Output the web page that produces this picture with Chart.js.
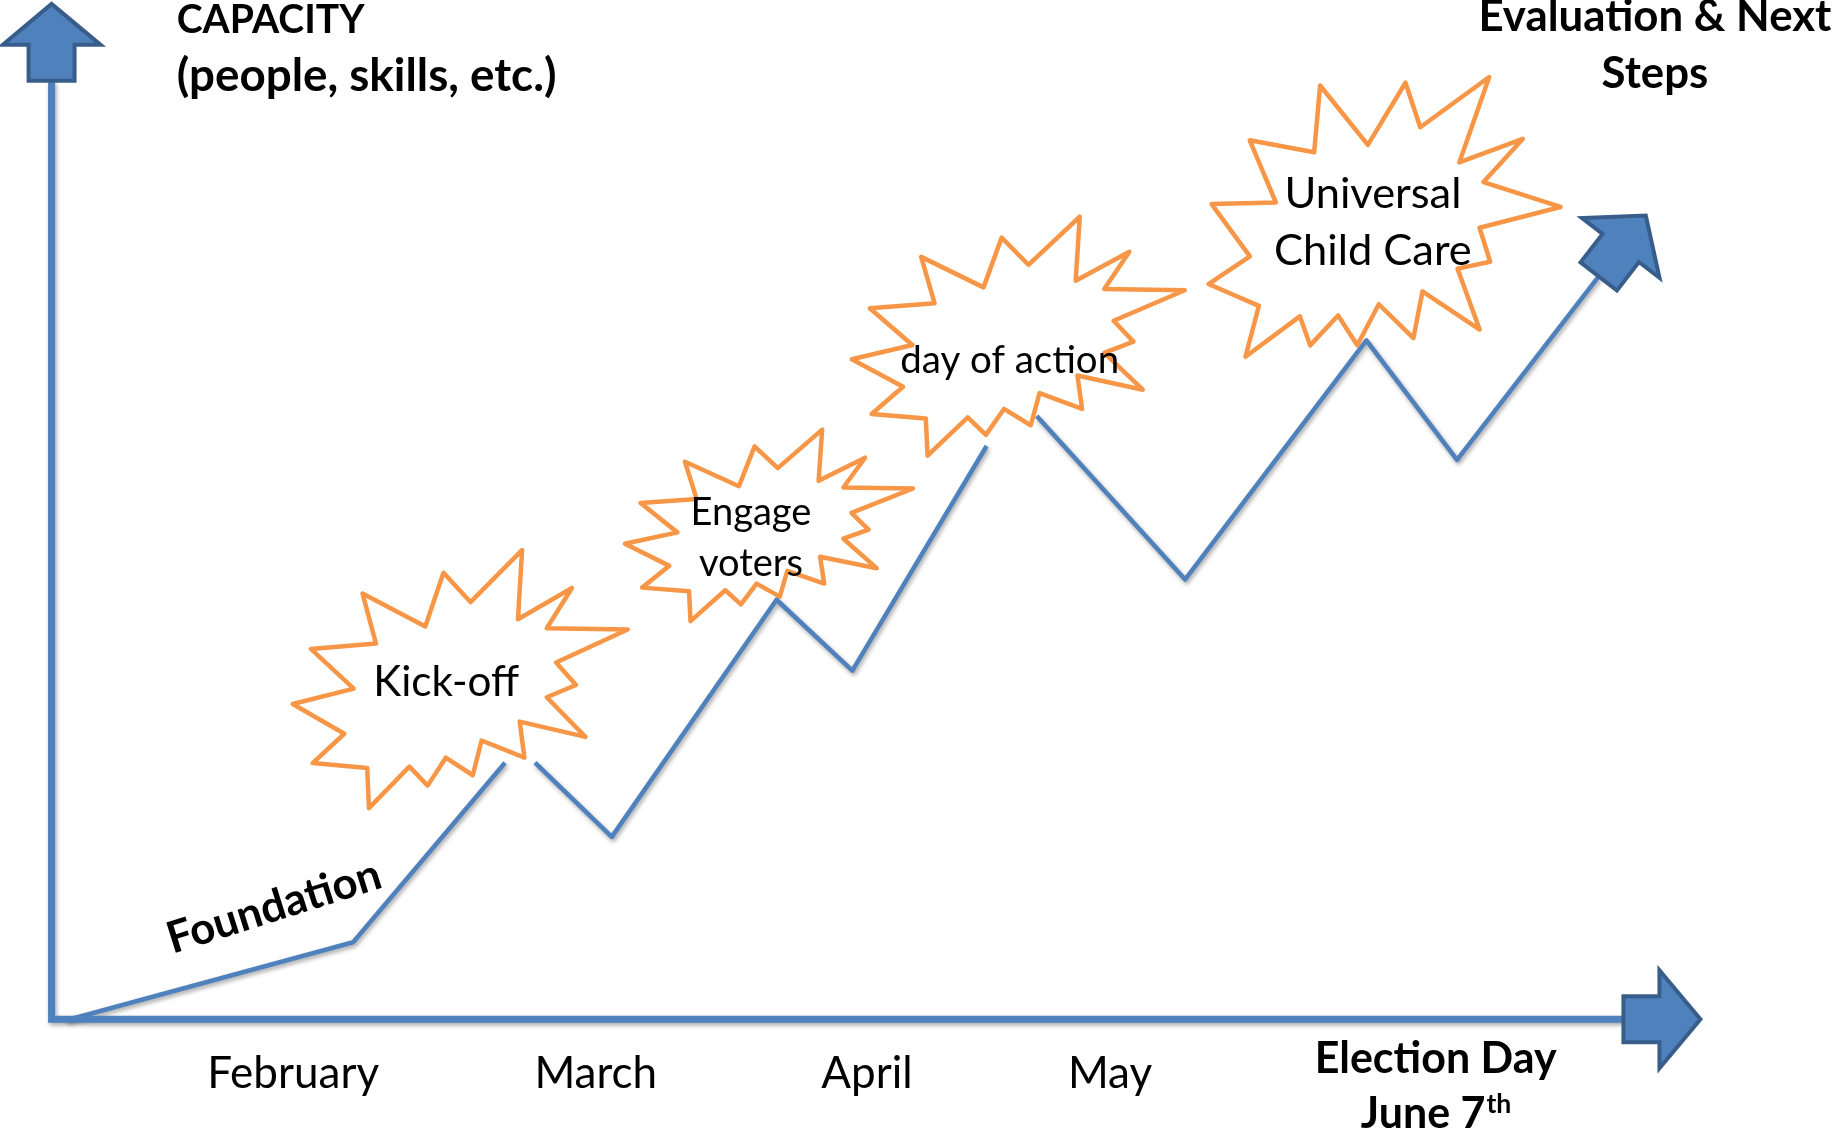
<!DOCTYPE html>
<html><head><meta charset="utf-8">
<script src="https://cdn.jsdelivr.net/npm/chart.js@4.4.1/dist/chart.umd.min.js"></script>
<style>html,body{margin:0;padding:0;background:#fff;overflow:hidden}canvas{display:block}</style>
</head><body>
<canvas id="c" width="1835" height="1134"></canvas>
<script>
// ---------- DATA (chart units: x = timeline 0..100, y = capacity 0..100) ----------
// null = break in the line (hidden behind a milestone burst)
const pathX = [0.9, 18.3, 27.52, 28.4, 29.34, 34.0, 44.0, 48.6, 56.75, 58.3, 59.79, 68.8, 79.8, 85.3, 93.9];
const pathY = [-0.1, 7.6, 25.32, null, 25.32, 18.0, 41.4, 34.4, 56.57, null, 59.53, 43.4, 67.0, 55.2, 73.3];
const axisX = [0, 0, 95.4];
const axisY = [92.6, 0, 0];
const monthLabels = ['February', 'March', 'April', 'May'];
const monthX = [14.66, 33.03, 49.49, 64.24];
const milestoneLabels = [['Kick-off'], ['Engage', 'voters'], ['day of action'], ['Universal', 'Child Care']];
const milestoneX = [24.80, 43.54, 58.67, 80.71];
const milestoneY = [33.56, 48.74, 67.40, 78.76];
const yTitle = ['CAPACITY', '(people, skills, etc.)'];
const endTitle = ['Evaluation & Next', 'Steps'];
const xEndTitle = ['Election Day', 'June 7', 'th'];
const startLabel = 'Foundation';

// ---------- LAYOUT / STYLE ----------
const BLUE = '#4F81BD', BLUE_DARK = '#385D8A', ORANGE = '#F79646';
const FONT = 'Lato, "Open Sans", sans-serif';
const burstStyle = [
  { w: 335, h: 258, rot: 0,    lx: -14,  ly: 17,  tw: 146, lh: 0 },
  { w: 288, h: 191.5, rot: 0,  lx: -18,  ly: 0,   tw: 121, lh: 51 },
  { w: 333, h: 239, rot: 0,    lx: -8.6, ly: 37,  tw: 219, lh: 0 },
  { w: 335, h: 338, rot: 16.7, lx: -8.5, ly: -13, tw: 177, lh: 56.7 }
];
const arrowStyle = { bodyLen: 36, bodyW: 46, headLen: 41, headW: 98 };
const textLayout = {
  yTitle: { x: 7.59, y: [97.32, 91.6], tw: [188, 380] },
  endTitle: { x: 97.31, y: [97.52, 91.94], tw: 353 },
  xEndTitle: { x: 84.0, y: [-5.35, -10.73], tw: 242 },
  months: { y: -6.78, tw: 172 },
  start: { x: 13.5, y: 11.08, rot: -17.5, tw: 222 }
};

// irregularSeal2 (explosion) template, 21600 units
const SEAL = [[11462,4342],[14790,0],[14525,5777],[18007,3172],[16380,6532],[21600,6645],[16985,9402],
 [18270,11290],[16380,12310],[18877,15632],[14640,14350],[14942,17370],[12180,15935],[11612,18842],
 [9872,17370],[8700,19712],[7527,18125],[4917,21600],[4805,18240],[1285,17825],[3330,15370],[0,12877],
 [3935,11592],[1172,8270],[5372,7817],[4502,3625],[8550,6382],[9722,1887]];

function fitSize(ctx, text, weight, targetW) {
  ctx.font = weight + ' 100px ' + FONT;
  return 100 * targetW / ctx.measureText(text).width;
}
function drawArrow(ctx, p, ang) {
  const s = arrowStyle;
  const pts = [[0,-s.bodyW/2],[s.bodyLen,-s.bodyW/2],[s.bodyLen,-s.headW/2],[s.bodyLen+s.headLen,0],
               [s.bodyLen,s.headW/2],[s.bodyLen,s.bodyW/2],[0,s.bodyW/2]];
  ctx.save();
  ctx.translate(p[0], p[1]); ctx.rotate(ang);
  ctx.beginPath();
  pts.forEach(([u,v],i)=> i ? ctx.lineTo(u,v) : ctx.moveTo(u,v));
  ctx.closePath();
  ctx.fillStyle = BLUE; ctx.fill();
  ctx.lineWidth = 4; ctx.strokeStyle = BLUE_DARK; ctx.lineJoin = 'miter'; ctx.stroke();
  ctx.restore();
}
function drawBurst(ctx, cx, cy, st) {
  ctx.save();
  ctx.translate(cx, cy); ctx.rotate(st.rot * Math.PI / 180);
  ctx.beginPath();
  SEAL.forEach(([u,v],i)=>{
    const px = (u/21600 - 0.5) * st.w, py = (v/21600 - 0.5) * st.h;
    i ? ctx.lineTo(px,py) : ctx.moveTo(px,py);
  });
  ctx.closePath();
  ctx.fillStyle = '#fff'; ctx.fill();
  ctx.lineWidth = 4.5; ctx.strokeStyle = ORANGE; ctx.lineJoin = 'round'; ctx.stroke();
  ctx.restore();
}

const shadowPlugin = {
  id: 'lineShadow',
  beforeDatasetDraw(chart) {
    const c = chart.ctx; c.save();
    c.shadowColor = 'rgba(0,0,0,0.35)'; c.shadowBlur = 4; c.shadowOffsetX = 1.5; c.shadowOffsetY = 2.5;
  },
  afterDatasetDraw(chart) { chart.ctx.restore(); }
};

const deco = {
  id: 'deco',
  afterDatasetsDraw(chart) {
    const ctx = chart.ctx, xs = chart.scales.x, ys = chart.scales.y;
    const P = (a, b) => [xs.getPixelForValue(a), ys.getPixelForValue(b)];
    // arrows at the ends of the axes and of the capacity path
    const a0 = P(axisX[0], axisY[0]), a1 = P(axisX[1], axisY[1]);
    drawArrow(ctx, a0, Math.atan2(a0[1]-a1[1], a0[0]-a1[0]));
    const n = axisX.length;
    const b0 = P(axisX[n-1], axisY[n-1]), b1 = P(axisX[n-2], axisY[n-2]);
    drawArrow(ctx, b0, Math.atan2(b0[1]-b1[1], b0[0]-b1[0]));
    const m = pathX.length;
    const c0 = P(pathX[m-1], pathY[m-1]), c1 = P(pathX[m-2], pathY[m-2]);
    drawArrow(ctx, c0, Math.atan2(c0[1]-c1[1], c0[0]-c1[0]));

    // milestone explosions with labels
    milestoneLabels.forEach((lines, i) => {
      const st = burstStyle[i];
      const [cx, cy] = P(milestoneX[i], milestoneY[i]);
      drawBurst(ctx, cx, cy, st);
      const fs = fitSize(ctx, lines[0], '400', st.tw);
      ctx.save();
      ctx.font = '400 ' + fs + 'px ' + FONT; ctx.fillStyle = '#000';
      ctx.textAlign = 'center'; ctx.textBaseline = 'alphabetic';
      lines.forEach((t, k) => ctx.fillText(t, cx + st.lx, cy + st.ly + k * st.lh));
      ctx.restore();
    });

    ctx.save();
    ctx.fillStyle = '#000'; ctx.textBaseline = 'alphabetic';
    // y-axis title (each line fitted to its width in the reference)
    let L = textLayout.yTitle, fs;
    ctx.textAlign = 'left';
    yTitle.forEach((t, k) => {
      const f = fitSize(ctx, t, '700', L.tw[k]);
      ctx.font = '700 ' + f + 'px ' + FONT;
      const p = P(L.x, L.y[k]); ctx.fillText(t, p[0], p[1]);
    });
    // end title
    L = textLayout.endTitle; fs = fitSize(ctx, endTitle[0], '700', L.tw);
    ctx.font = '700 ' + fs + 'px ' + FONT; ctx.textAlign = 'center';
    endTitle.forEach((t, k) => { const p = P(L.x, L.y[k]); ctx.fillText(t, p[0], p[1]); });
    // election day
    L = textLayout.xEndTitle; fs = fitSize(ctx, xEndTitle[0], '700', L.tw);
    ctx.font = '700 ' + fs + 'px ' + FONT; ctx.textAlign = 'center';
    let p = P(L.x, L.y[0]); ctx.fillText(xEndTitle[0], p[0], p[1]);
    p = P(L.x, L.y[1]);
    const w1 = ctx.measureText(xEndTitle[1]).width;
    ctx.font = '700 ' + (fs * 0.62) + 'px ' + FONT;
    const w2 = ctx.measureText(xEndTitle[2]).width;
    ctx.textAlign = 'left';
    const sx = p[0] - (w1 + w2) / 2;
    ctx.font = '700 ' + fs + 'px ' + FONT; ctx.fillText(xEndTitle[1], sx, p[1]);
    ctx.font = '700 ' + (fs * 0.62) + 'px ' + FONT; ctx.fillText(xEndTitle[2], sx + w1 + 1, p[1] - fs * 0.36);
    // months
    L = textLayout.months; fs = fitSize(ctx, monthLabels[0], '400', L.tw);
    ctx.font = '400 ' + fs + 'px ' + FONT; ctx.textAlign = 'center';
    monthLabels.forEach((t, k) => { const q = P(monthX[k], L.y); ctx.fillText(t, q[0], q[1]); });
    // foundation
    L = textLayout.start; fs = fitSize(ctx, startLabel, '700', L.tw);
    p = P(L.x, L.y);
    ctx.translate(p[0], p[1]); ctx.rotate(L.rot * Math.PI / 180);
    ctx.font = '700 ' + fs + 'px ' + FONT; ctx.textAlign = 'center'; ctx.textBaseline = 'middle';
    ctx.fillText(startLabel, 0, 0);
    ctx.restore();
  }
};

new Chart(document.getElementById('c'), {
  type: 'line',
  data: {
    datasets: [
      { label: 'axes', data: axisX.map((v, i) => ({ x: v, y: axisY[i] })),
        borderColor: BLUE, borderWidth: 7, pointRadius: 0, tension: 0, fill: false,
        borderJoinStyle: 'miter', borderCapStyle: 'butt' },
      { label: 'capacity', data: pathX.map((v, i) => ({ x: v, y: pathY[i] })),
        borderColor: BLUE, borderWidth: 4.5, pointRadius: 0, tension: 0, fill: false,
        spanGaps: false, borderJoinStyle: 'round', borderCapStyle: 'butt' }
    ]
  },
  options: {
    responsive: false, animation: false, devicePixelRatio: 1,
    layout: { padding: 0 },
    plugins: { legend: { display: false }, tooltip: { enabled: false }, title: { display: false } },
    scales: {
      x: { type: 'linear', display: false, min: -3.13, max: 108.24 },
      y: { type: 'linear', display: false, min: -11.32, max: 100.58 }
    }
  },
  plugins: [shadowPlugin, deco]
});
</script>
</body></html>
